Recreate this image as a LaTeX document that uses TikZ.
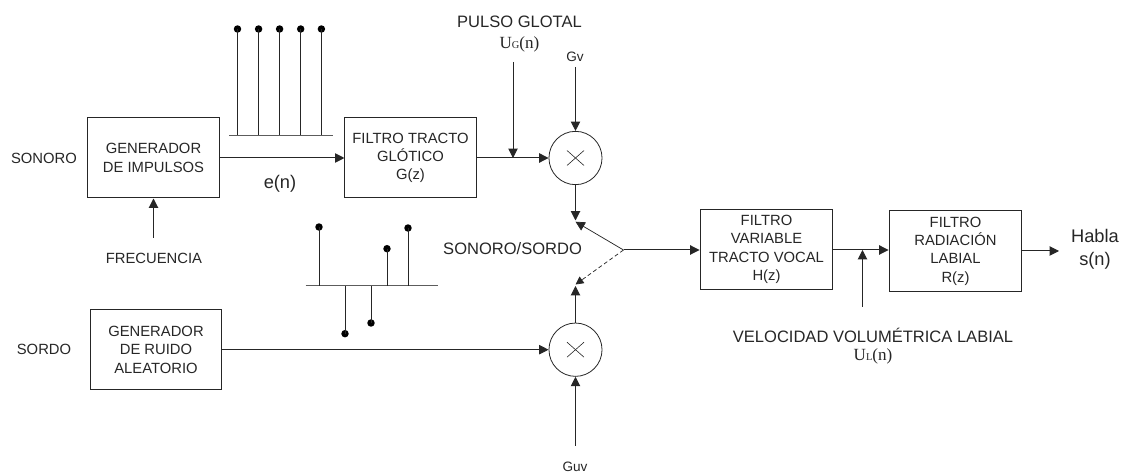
\documentclass[tikz,border=0pt]{standalone}
\usepackage{fontspec}
\setmainfont{Liberation Sans}
\newfontfamily\uvar{Liberation Serif}
\usetikzlibrary{arrows.meta,shapes.geometric}
\definecolor{ink}{HTML}{262626}
\tikzset{
  x=0.75pt,y=-0.75pt,
  line/.style={draw=ink,line width=0.75pt},
  arrow/.style={line,-{Triangle[length=7pt,width=7pt]}},
  thinarrow/.style={draw=ink,line width=0.55pt,-{Triangle[length=7pt,width=7pt]}},
  dasharrow/.style={draw=ink,line width=0.55pt,densely dashed,-{Triangle[length=6pt,width=6pt]}},
  box/.style={draw=ink,line width=0.75pt,rectangle,inner sep=0pt,align=center,text=ink,font=\fontsize{11.1}{13.7}\selectfont},
  label/.style={inner sep=0pt,align=center,text=ink,font=\fontsize{11.1}{13.7}\selectfont},
  biglabel/.style={inner sep=0pt,align=center,text=ink,font=\fontsize{12.4}{14}\selectfont},
  hugelabel/.style={inner sep=0pt,align=center,text=ink,font=\fontsize{13.7}{17.5}\selectfont},
  tinylabel/.style={inner sep=0pt,align=center,text=ink,font=\fontsize{10.2}{12}\selectfont},
  serif/.style={inner sep=0pt,text=ink,font=\uvar\fontsize{12.8}{15}\selectfont},
  mult/.style={draw=ink,line width=0.6pt,ellipse,inner sep=0pt,minimum width=39.8pt,minimum height=40pt},
  dot/.style={circle,fill=black,inner sep=0pt,minimum size=5.6pt},
  stem/.style={draw=ink,line width=0.75pt},
  basel/.style={draw=ink!75,line width=0.9pt},
}
\begin{document}
\begin{tikzpicture}
\useasboundingbox (0,0) rectangle (1122,473);
% boxes
\node[box,minimum width=98.3pt,minimum height=60pt] (gi) at (153.5,158) {GENERADOR\\DE IMPULSOS};
\node[box,minimum width=98.3pt,minimum height=60pt] (ft) at (410.5,158) {FILTRO TRACTO\\GLÓTICO\\G(z)};
\node[box,minimum width=98.3pt,minimum height=60pt] (gr) at (156,349.7) {GENERADOR\\DE RUIDO\\ALEATORIO};
\node[box,minimum width=99.7pt,minimum height=60.3pt] (fv) at (766.5,249.5) {FILTRO\\VARIABLE\\TRACTO VOCAL\\H(z)};
\node[box,minimum width=99.7pt,minimum height=60.3pt] (fr) at (955.5,251) {FILTRO\\RADIACIÓN\\LABIAL\\R(z)};
% multipliers
\node[mult] (mv) at (575.5,158) {};
\node[mult] (mu) at (575.5,349.7) {};
\foreach \yy in {158,349.7}{
  \draw[draw=ink,line width=0.45pt] (567,\yy-7.5) -- (584,\yy+7.5);
  \draw[draw=ink,line width=0.45pt] (584,\yy-7.5) -- (567,\yy+7.5);
}
% labels
\node[label] (lson) at (44,158) {SONORO};
\node[label] (lsor) at (44,349.7) {SORDO};
\node[label] (lfre) at (154,258.7) {FRECUENCIA};
\node[hugelabel] (len) at (280,184) {e(n)};
\node[biglabel] (lpu) at (519.5,22) {PULSO GLOTAL};
\node[serif] (lug) at (519.5,44.7) {U{\fontsize{7.8}{9}\selectfont G}(n)};
\node[tinylabel] (lgv) at (575,57) {Gv};
\node[tinylabel] (lguv) at (575,467) {Guv};
\node[biglabel] (lss) at (512.6,249) {SONORO/SORDO};
\node[biglabel] (lvel) at (873,335.7) {VELOCIDAD VOLUMÉTRICA LABIAL};
\node[serif] (lul) at (873,356.7) {U{\fontsize{7.8}{9}\selectfont L}(n)};
\node[hugelabel] (lha) at (1095,249) {Habla\\s(n)};
% free ends
\coordinate (fa) at (153.5,238);
\coordinate (pg) at (513,62);
\coordinate (pgt) at (513,158);
\coordinate (gvs) at (575.5,67);
\coordinate (guvs) at (575.5,445.7);
\coordinate (swa) at (623.5,250);
\coordinate (swu) at (575.5,221.7);
\coordinate (swd) at (575.5,284.5);
\coordinate (mvt) at (575.5,220.5);
\coordinate (mut) at (575.5,286);
\coordinate (vl) at (862.5,307);
\coordinate (vlt) at (862.5,250);
\coordinate (out) at (1059,251);
% connectors
\draw[arrow] (fa) -- (gi.south);
\draw[arrow] (gi.east) -- (ft.west);
\draw[arrow] (ft.east) -- (mv.west);
\draw[arrow] (pg) -- (pgt);
\draw[arrow] (gvs) -- (mv.north);
\draw[arrow] (mv.south) -- (mvt);
\draw[arrow] (mu.north) -- (mut);
\draw[arrow] (guvs) -- (mu.south);
\draw[arrow] (gr.east) -- (mu.west);
\draw[thinarrow] (swa) -- (swu);
\draw[dasharrow] (swa) -- (swd);
\draw[arrow] (swa) -- (fv.west |- swa);
\draw[arrow] (fv.east |- vlt) -- (fr.west |- vlt);
\draw[arrow] (vl) -- (vlt);
\draw[arrow] (fr.east) -- (out);
% periodic impulses
\coordinate (pbl) at (229,135.3);
\coordinate (pbr) at (332.5,135.3);
\draw[basel] (pbl) -- (pbr);
\foreach \n/\xx in {a/237.5,b/258.6,c/279.6,d/300.7,e/321.4}{
  \node[dot] (pd\n) at (\xx,29) {};
  \draw[stem] (pd\n.center) -- (pd\n.center |- pbl);
}
% noise impulses
\coordinate (nbl) at (305.5,285.7);
\coordinate (nbr) at (437.5,285.7);
\draw[basel] (nbl) -- (nbr);
\foreach \n/\xx/\yy in {a/319/227,b/345/333.7,c/371/323,d/387/248.7,e/408/228}{
  \node[dot] (nd\n) at (\xx,\yy) {};
  \draw[stem] (nd\n.center) -- (nd\n.center |- nbl);
}
\end{tikzpicture}
\end{document}
